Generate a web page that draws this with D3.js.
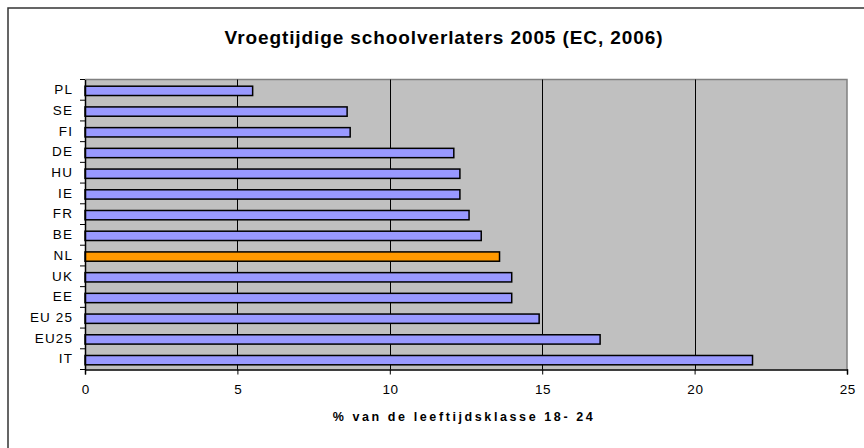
<!DOCTYPE html>
<html><head><meta charset="utf-8">
<script src="https://cdn.jsdelivr.net/npm/d3@7"></script>
<style>
html,body{margin:0;padding:0;background:#fff;}
svg{display:block;font-family:"Liberation Sans",Arial,sans-serif;}
</style></head>
<body>
<svg id="chart" width="864" height="448"></svg>
<script>
const categories = ["PL","SE","FI","DE","HU","IE","FR","BE","NL","UK","EE","EU 25","EU25","IT"];
const values = [5.5, 8.6, 8.7, 12.1, 12.3, 12.3, 12.6, 13.0, 13.6, 14.0, 14.0, 14.9, 16.9, 21.9];
const highlight = ["NL"];
const xTicks = [0, 5, 10, 15, 20, 25];
const title = "Vroegtijdige schoolverlaters 2005 (EC, 2006)";
const xTitle = "% van de leeftijdsklasse 18- 24";

const svg = d3.select("#chart");
const W = 864, H = 448;
const plot = {left: 85, right: 847, top: 79.5, bottom: 369.5};
const FONT = "'Liberation Sans', Arial, sans-serif";

// outer frame (extends beyond the canvas on right and bottom)
svg.append("path")
  .attr("d", `M8,${H+5} L8,8 L${W+5},8`)
  .attr("fill", "none").attr("stroke", "#333").attr("stroke-width", 1.5);

const x = d3.scaleLinear().domain([0, 25]).range([plot.left, plot.right]);
const y = d3.scaleBand().domain(categories).range([plot.top, plot.bottom]);

// plot background
svg.append("rect")
  .attr("x", plot.left).attr("y", plot.top)
  .attr("width", plot.right - plot.left).attr("height", plot.bottom - plot.top)
  .attr("fill", "#C0C0C0");
svg.append("path")
  .attr("d", `M${plot.left},${plot.top} L${plot.right},${plot.top} L${plot.right},${plot.bottom}`)
  .attr("fill", "none").attr("stroke", "#808080").attr("stroke-width", 1.5);

// gridlines
svg.append("g").selectAll("line")
  .data(xTicks.filter(t => t > 0 && t < 25))
  .join("line")
  .attr("x1", d => Math.round(x(d)) + 0.5).attr("x2", d => Math.round(x(d)) + 0.5)
  .attr("y1", plot.top).attr("y2", plot.bottom)
  .attr("stroke", "#000").attr("stroke-width", 1);

// bars
const bh = y.bandwidth() * 0.45;
svg.append("g").selectAll("rect")
  .data(categories.map((c, i) => ({c, v: values[i]})))
  .join("rect")
  .attr("x", x(0))
  .attr("y", d => y(d.c) + y.bandwidth() / 2 - bh / 2 + 1)
  .attr("width", d => x(d.v) - x(0))
  .attr("height", bh)
  .attr("fill", d => highlight.includes(d.c) ? "#FF9900" : "#9999FF")
  .attr("stroke", "#000").attr("stroke-width", 1.5);

// x axis
const xAxis = d3.axisBottom(x).tickValues(xTicks).tickSize(5).tickPadding(10).tickFormat(d3.format("d"));
const gx = svg.append("g").attr("transform", `translate(0,${plot.bottom})`).call(xAxis);
gx.select(".domain").attr("stroke", "#000").attr("stroke-width", 1.5);
gx.selectAll(".tick line").attr("stroke", "#000");
gx.selectAll(".tick text").attr("font-size", 13.5).attr("fill", "#000")
  .attr("font-family", FONT).attr("letter-spacing", "0.6px").attr("dx", "0.3px");

// y axis
const yAxis = d3.axisLeft(y).tickSize(0).tickPadding(12);
const gy = svg.append("g").attr("transform", `translate(${plot.left},0)`).call(yAxis);
gy.select(".domain").attr("stroke", "#000").attr("stroke-width", 1.5);
gy.selectAll(".tick text").attr("font-size", 13.5).attr("fill", "#000")
  .attr("font-family", FONT).attr("letter-spacing", "1.1px");
svg.append("g").selectAll("line")
  .data(d3.range(categories.length + 1))
  .join("line")
  .attr("x1", plot.left - 5).attr("x2", plot.left)
  .attr("y1", i => plot.top + i * y.step()).attr("y2", i => plot.top + i * y.step())
  .attr("stroke", "#000").attr("stroke-width", 1);

// title
svg.append("text")
  .attr("x", 444).attr("y", 44)
  .attr("text-anchor", "middle")
  .attr("font-size", 19).attr("font-weight", "bold")
  .attr("letter-spacing", "0.9px")
  .text(title);

// x axis title
svg.append("text")
  .attr("x", 464).attr("y", 421)
  .attr("text-anchor", "middle")
  .attr("font-size", 12.5).attr("font-weight", "bold")
  .attr("letter-spacing", "2.6px")
  .text(xTitle);
</script>
</body></html>
